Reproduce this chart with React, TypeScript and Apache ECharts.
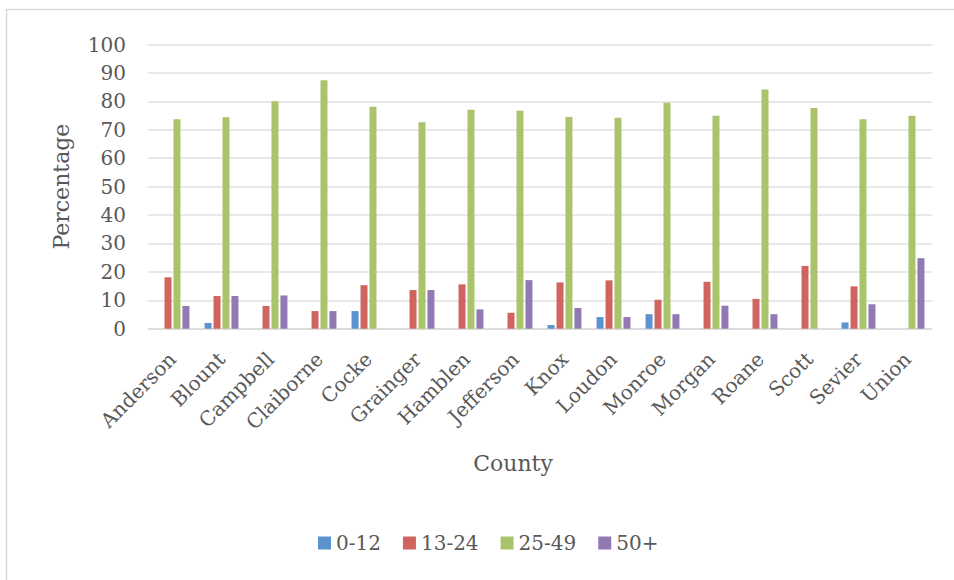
import React, { useEffect, useRef } from "react";
import * as echarts from "echarts";

const counties = ["Anderson", "Blount", "Campbell", "Claiborne", "Cocke", "Grainger", "Hamblen", "Jefferson", "Knox", "Loudon", "Monroe", "Morgan", "Roane", "Scott", "Sevier", "Union"];
const age0to12 = [0, 2.0, 0, 0, 6.2, 0, 0, 0, 1.3, 4.1, 5.1, 0, 0, 0, 2.2, 0];
const age13to24 = [18.1, 11.5, 8.0, 6.2, 15.3, 13.6, 15.6, 5.6, 16.3, 17.0, 10.2, 16.5, 10.5, 22.1, 14.9, 0];
const age25to49 = [73.7, 74.4, 80.0, 87.4, 78.1, 72.6, 77.0, 76.7, 74.5, 74.2, 79.5, 74.9, 84.2, 77.7, 73.7, 74.9];
const age50plus = [8.0, 11.5, 11.7, 6.2, 0, 13.6, 6.8, 17.1, 7.3, 4.1, 5.1, 8.1, 5.1, 0, 8.6, 24.8];
const seriesNames = ["0-12", "13-24", "25-49", "50+"];
const seriesColors = ["#5B93CE", "#CF655E", "#A9C46A", "#9279B4"];
const yTicks = [0, 10, 20, 30, 40, 50, 60, 70, 80, 90, 100];

const FONT = "DejaVu Serif";
const TXT = "#595959";

export default function App() {
  const ref = useRef<HTMLDivElement>(null);
  useEffect(() => {
    if (!ref.current) return;
    const chart = echarts.init(ref.current, null, { renderer: "svg" });
    const data = [age0to12, age13to24, age25to49, age50plus];
    chart.setOption({
      animation: false,
      backgroundColor: "#ffffff",
      textStyle: { fontFamily: FONT, color: TXT },
      graphic: [
        {
          type: "rect",
          shape: { x: 6.5, y: 9.5, width: 960, height: 600 },
          style: { fill: "none", stroke: "#D9D9D9", lineWidth: 1.5 },
          silent: true,
          z: -1,
        },
      ],
      grid: { left: 148, right: 22, top: 44.5, bottom: 251.3, containLabel: false },
      legend: {
        data: seriesNames,
        left: 318,
        top: 533,
        padding: 0,
        itemWidth: 13,
        itemHeight: 13,
        itemGap: 22,
        icon: "rect",
        textStyle: { fontFamily: FONT, fontSize: 20, color: TXT },
      },
      xAxis: {
        type: "category",
        data: counties,
        name: "County",
        nameLocation: "middle",
        nameGap: 124,
        nameTextStyle: { fontFamily: FONT, fontSize: 22, color: TXT, padding: [0, 54, 0, 0] },
        axisLine: { show: true, lineStyle: { color: "#D9D9D9", width: 1.5 } },
        axisTick: { show: false },
        axisLabel: { rotate: 45, fontFamily: FONT, fontSize: 20, color: TXT, margin: 27, interval: 0 },
      },
      yAxis: {
        type: "value",
        min: 0,
        max: 100,
        interval: 10,
        name: "Percentage",
        nameLocation: "middle",
        nameGap: 76,
        nameTextStyle: { fontFamily: FONT, fontSize: 22, color: TXT },
        axisLine: { show: false },
        axisTick: { show: false },
        axisLabel: {
          fontFamily: FONT,
          fontSize: 20,
          color: TXT,
          margin: 22,
          formatter: (v: number) => (yTicks.includes(v) ? String(v) : ""),
        },
        splitLine: { lineStyle: { color: "#E0E0E0", width: 1.5 } },
      },
      series: seriesNames.map((name, i) => ({
        name,
        type: "bar",
        data: data[i],
        barWidth: 7,
        barGap: "28%",
        itemStyle: { color: seriesColors[i] },
      })),
    });
    return () => chart.dispose();
  }, []);
  return (
    <div
      ref={ref}
      style={{ position: "fixed", left: 0, top: 0, width: 954, height: 580, background: "#fff" }}
    />
  );
}
